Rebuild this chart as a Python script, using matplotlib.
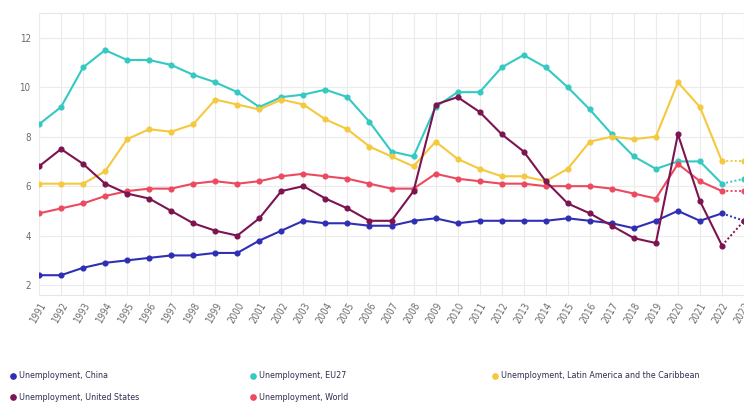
import matplotlib
matplotlib.use("Agg")
import matplotlib.pyplot as plt
from matplotlib.lines import Line2D

plt.rcParams['font.family'] = ['DejaVu Sans']
plt.rcParams['font.stretch'] = 'condensed'

years = list(range(1991, 2024))

china = [2.4, 2.4, 2.7, 2.9, 3.0, 3.1, 3.2, 3.2, 3.3, 3.3,
         3.8, 4.2, 4.6, 4.5, 4.5, 4.4, 4.4, 4.6, 4.7, 4.5,
         4.6, 4.6, 4.6, 4.6, 4.7, 4.6, 4.5, 4.3, 4.6, 5.0,
         4.6, 4.9, 4.6]
eu27 = [8.5, 9.2, 10.8, 11.5, 11.1, 11.1, 10.9, 10.5, 10.2, 9.8,
        9.2, 9.6, 9.7, 9.9, 9.6, 8.6, 7.4, 7.2, 9.2, 9.8,
        9.8, 10.8, 11.3, 10.8, 10.0, 9.1, 8.1, 7.2, 6.7, 7.0,
        7.0, 6.1, 6.3]
latam = [6.1, 6.1, 6.1, 6.6, 7.9, 8.3, 8.2, 8.5, 9.5, 9.3,
         9.1, 9.5, 9.3, 8.7, 8.3, 7.6, 7.2, 6.8, 7.8, 7.1,
         6.7, 6.4, 6.4, 6.2, 6.7, 7.8, 8.0, 7.9, 8.0, 10.2,
         9.2, 7.0, 7.0]
usa = [6.8, 7.5, 6.9, 6.1, 5.7, 5.5, 5.0, 4.5, 4.2, 4.0,
       4.7, 5.8, 6.0, 5.5, 5.1, 4.6, 4.6, 5.8, 9.3, 9.6,
       9.0, 8.1, 7.4, 6.2, 5.3, 4.9, 4.4, 3.9, 3.7, 8.1,
       5.4, 3.6, 4.6]
world = [4.9, 5.1, 5.3, 5.6, 5.8, 5.9, 5.9, 6.1, 6.2, 6.1,
         6.2, 6.4, 6.5, 6.4, 6.3, 6.1, 5.9, 5.9, 6.5, 6.3,
         6.2, 6.1, 6.1, 6.0, 6.0, 6.0, 5.9, 5.7, 5.5, 6.9,
         6.2, 5.8, 5.8]

labels = ["Unemployment, China", "Unemployment, EU27",
          "Unemployment, Latin America and the Caribbean",
          "Unemployment, United States", "Unemployment, World"]
colors = ["#2f2fb5", "#34c9c2", "#f4c93e", "#7c1450", "#ec4a60"]
values = [china, eu27, latam, usa, world]
draw_order = [0, 1, 2, 4, 3]

fig = plt.figure(figsize=(7.44, 4.03), dpi=100)
W, H = 744, 403
ax = fig.add_axes([39 / W, 1 - 295 / H, 705 / W, (295 - 13) / H])
ax.set_xlim(1991, 2023)
ax.set_ylim(1.6, 13)

for i in draw_order:
    vals, col = values[i], colors[i]
    ax.plot(years[:-1], vals[:-1], color=col, lw=1.5, marker='o', ms=3.4,
            zorder=3, solid_joinstyle='round')
    ax.plot(years[-2:], vals[-2:], color=col, lw=1.4, ls=(0, (1, 1.2)),
            marker='o', ms=3.4, markevery=[1], zorder=3)

ax.set_yticks([2, 4, 6, 8, 10, 12])
ax.set_xticks(years)
ax.set_xticklabels([str(y) for y in years], rotation=60, ha='right',
                   va='top', rotation_mode='anchor')
ax.grid(color='#ebebeb', lw=0.8, zorder=0)
ax.set_axisbelow(True)
for s in ['left', 'right']:
    ax.spines[s].set_visible(False)
for s in ['top', 'bottom']:
    ax.spines[s].set_color('#e6e6e6')
    ax.spines[s].set_linewidth(0.8)
ax.tick_params(axis='both', length=0, labelsize=7, colors='#6a6a6a')
ax.tick_params(axis='x', pad=4)
ax.tick_params(axis='y', pad=6)

# legend laid out in three columns under the axis
legend_pos = [(13, 376), (253, 376), (495, 376), (13, 397), (253, 397)]
for (px, py), lab, col in zip(legend_pos, labels, colors):
    fig.add_artist(Line2D([px / W], [1 - py / H], marker='o', ms=3.8,
                          color=col, ls='none', transform=fig.transFigure))
    fig.text((px + 6) / W, 1 - py / H, lab, fontsize=6.4, color='#2e2e4e',
             va='center', ha='left')

fig.savefig("out.png", dpi=100)
